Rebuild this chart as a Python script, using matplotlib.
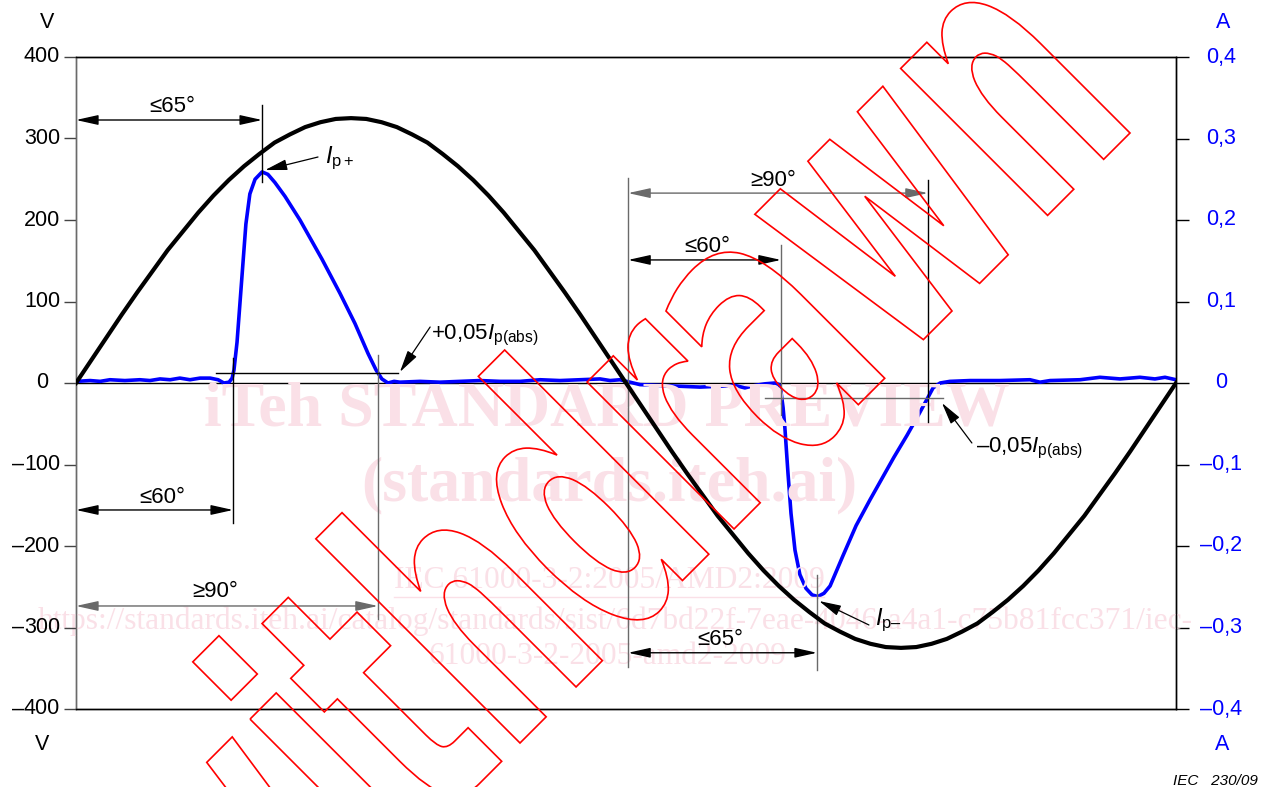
import numpy as np
import matplotlib
matplotlib.use("Agg")
import matplotlib.pyplot as plt
from matplotlib.textpath import TextPath
from matplotlib.patches import PathPatch, ArrowStyle
from matplotlib.font_manager import FontProperties
from matplotlib.transforms import Affine2D, blended_transform_factory

plt.rcParams['font.family'] = ['Liberation Sans', 'DejaVu Sans']
plt.rcParams['mathtext.fontset'] = 'custom'
plt.rcParams['mathtext.rm'] = 'Liberation Sans'
plt.rcParams['mathtext.it'] = 'Liberation Sans:italic'

W, H = 1261, 787

# supply voltage, phase angle in degrees
volt_deg = list(range(0, 361, 5))
volt = [0, 28, 56, 84, 111, 137, 163, 186, 209, 230, 249, 266, 281, 295, 305, 314, 320, 324,
        325, 324, 320, 314, 305, 295, 281, 266, 249, 230, 209, 186, 163, 137, 111, 84, 56, 28,
        0, -28, -56, -84, -111, -137, -163, -186, -209, -230, -249, -266, -281, -295, -305,
        -314, -320, -324, -325, -324, -320, -314, -305, -295, -281, -266, -249, -230, -209,
        -186, -163, -137, -111, -84, -56, -28, 0]

# input current (A)
cur_deg = [0.0, 4.6, 7.9, 11.1, 16.0, 20.9, 24.2, 27.5, 30.8, 34.0, 37.3, 40.6, 43.9, 46.5,
           48.4, 50.1, 51.1, 51.7, 52.7, 53.7, 54.7, 55.6, 56.9, 58.6, 60.9, 62.8, 65.1, 68.4,
           73.3, 80.5, 86.4, 91.3, 95.6, 98.2, 100.1, 102.1, 104.1, 106.0, 112.6, 119.1, 125.7,
           132.2, 138.8, 145.3, 151.9, 158.4, 164.9, 171.5, 174.8, 178.0, 181.3, 184.6, 191.1,
           197.7, 204.2, 210.8, 215.7, 218.9, 222.2, 225.5, 228.8, 230.1, 230.7, 231.4, 232.0,
           233.0, 234.0, 235.3, 236.9, 238.9, 240.9, 242.8, 244.8, 246.8, 251.0, 255.3, 259.9,
           263.5, 267.7, 272.0, 275.6, 278.5, 280.5, 282.8, 286.0, 292.6, 302.4, 312.2, 315.5,
           318.8, 328.6, 335.1, 341.7, 348.2, 353.1, 356.4, 360.0]
cur = [0.002, 0.003, 0.002, 0.004, 0.003, 0.004, 0.003, 0.005, 0.004, 0.006, 0.004, 0.006,
       0.006, 0.004, 0.0, 0.001, 0.006, 0.016, 0.05, 0.10, 0.15, 0.195, 0.232, 0.250, 0.259,
       0.256, 0.246, 0.229, 0.200, 0.152, 0.110, 0.073, 0.036, 0.016, 0.005, 0.0, 0.002, 0.001,
       0.002, 0.001, 0.002, 0.003, 0.002, 0.002, 0.004, 0.003, 0.004, 0.005, 0.003, 0.004,
       0.001, -0.002, -0.003, -0.004, -0.005, -0.004, -0.003, -0.006, -0.003, -0.001, 0.0,
       -0.002, -0.01, -0.03, -0.055, -0.11, -0.16, -0.205, -0.235, -0.252, -0.26, -0.262,
       -0.258, -0.249, -0.212, -0.175, -0.143, -0.119, -0.091, -0.064, -0.04, -0.02, -0.006,
       0.0, 0.002, 0.003, 0.003, 0.004, 0.001, 0.003, 0.004, 0.007, 0.005, 0.007, 0.005,
       0.007, 0.004]

v_ticks = [-400, -300, -200, -100, 0, 100, 200, 300, 400]
a_ticks = [-0.4, -0.3, -0.2, -0.1, 0.0, 0.1, 0.2, 0.3, 0.4]
a_labels = ['–0,4', '–0,3', '–0,2', '–0,1', '0', '0,1', '0,2', '0,3', '0,4']

BLUE = '#0000ff'
GREY = '#6a6a6a'
PINK = '#fae0e7'
FS_TICK = 15.5
FS_LAB = 16

fig = plt.figure(figsize=(W / 100, H / 100), dpi=100)
ax = fig.add_axes([76 / W, 1 - 709 / H, 1100 / W, 652 / H])
ax2 = ax.twinx()

ax.set_xlim(0, 360)
ax.set_ylim(-400, 400)
ax2.set_ylim(-0.4, 0.4)
ax.set_xticks([])
ax.set_yticks(v_ticks)
ax2.set_yticks(a_ticks)
ax.tick_params(axis='y', direction='out', length=9, width=1, color='#444444', labelleft=False)
ax2.tick_params(axis='y', direction='out', length=9.5, width=1, color='black', labelright=False)
for a in (ax, ax2):
    for s in a.spines.values():
        s.set_linewidth(1.0)
ax.spines['left'].set_color(GREY)
ax2.spines['left'].set_color(GREY)

# curves: zero line under the current trace, voltage trace on top
ax2.axhline(0, color='black', lw=1.0, zorder=1)
ax2.plot(cur_deg, cur, color=BLUE, lw=2.6, solid_joinstyle='round', zorder=5)
ax.plot(volt_deg, volt, color='black', lw=3.0, solid_joinstyle='round', zorder=4)

# tick labels
tl = blended_transform_factory(ax.transAxes, ax.transData)
for v in v_ticks:
    ax.text((42 - 76) / 1100, v, str(abs(v)), transform=tl, ha='center', va='center',
            fontsize=FS_TICK)
    if v < 0:
        ax.text((24 - 76) / 1100, v, '–', transform=tl, ha='right', va='center',
                fontsize=FS_TICK)
tr = blended_transform_factory(ax2.transAxes, ax2.transData)
for a, lab in zip(a_ticks, a_labels):
    ax2.text((1221 - 76) / 1100, a, lab, transform=tr, ha='center', va='center',
             fontsize=FS_TICK, color=BLUE)

fig.text(47 / W, 1 - 22 / H, 'V', ha='center', va='center', fontsize=FS_TICK)
fig.text(42 / W, 1 - 745 / H, 'V', ha='center', va='center', fontsize=FS_TICK)
fig.text(1223 / W, 1 - 23 / H, 'A', ha='center', va='center', fontsize=FS_TICK, color=BLUE)
fig.text(1222 / W, 1 - 744 / H, 'A', ha='center', va='center', fontsize=FS_TICK, color=BLUE)
fig.text(1258 / W, 1 - 781 / H, 'IEC   230/09', ha='right', va='center', fontsize=11,
         style='italic')

# dimension marks
dim_style = ArrowStyle('<|-|>', head_length=0.9, head_width=0.2)
lead_style = ArrowStyle('-|>', head_length=0.9, head_width=0.22)


def vline(x, y0, y1, c='black'):
    ax.plot([x, x], [y0, y1], color=c, lw=1.0, zorder=3)


def dim(x0, x1, y, text, tx, ty, c='black'):
    ax.annotate('', xy=(x1, y), xytext=(x0, y),
                arrowprops=dict(arrowstyle=dim_style, color=c, lw=1.0, shrinkA=0, shrinkB=0,
                                mutation_scale=15), zorder=3)
    ax.text(tx, ty, text, ha='center', va='center', fontsize=FS_LAB, zorder=6)


def leader(x0, y0, x1, y1):
    ax.annotate('', xy=(x1, y1), xytext=(x0, y0),
                arrowprops=dict(arrowstyle=lead_style, color='black', lw=0.9, shrinkA=0,
                                shrinkB=0, mutation_scale=15), zorder=6)


# positive half-cycle
vline(60.9, 341, 246.6)
dim(0, 60.9, 322.7, '≤65°', 31.4, 338.7)
vline(51.4, 30.7, -171.8)
dim(0, 51.4, -155.8, '≤60°', 28.1, -139.9)
vline(98.8, 34, -289.6, GREY)
dim(0, 98.8, -273.6, '≥90°', 45.5, -256.4, GREY)
ax.plot([45.8, 105.4], [12.3, 12.3], color='black', lw=1.0, zorder=3)
ax.text(81.5, 276, r'$\mathit{I}_{\mathrm{p+}}$', ha='left', va='center', fontsize=17, zorder=6)
leader(79.2, 277.3, 61.9, 261.3)
ax.text(116.3, 58.9, r'+0,05$\mathit{I}_{\mathrm{p(abs)}}$', ha='left', va='center',
        fontsize=FS_LAB, zorder=6)
leader(115.9, 68.7, 106.0, 13.5)

# negative half-cycle
vline(180.7, 251.5, -348.5, GREY)
vline(278.8, 249, -48)
dim(180.7, 278.8, 233, '≥90°', 228.1, 249, GREY)
vline(230.7, 169, -39, GREY)
dim(180.7, 230.7, 151, '≤60°', 206.5, 166.9)
ax.plot([225.5, 283.8], [-18.4, -18.4], color=GREY, lw=1.0, zorder=3)
ax.text(294.6, -79.8, r'–0,05$\mathit{I}_{\mathrm{p(abs)}}$', ha='left', va='center',
        fontsize=FS_LAB, zorder=6)
leader(293.2, -73.6, 283.4, -24.5)
vline(242.5, -235.6, -352, GREY)
dim(180.7, 242.5, -331, '≤65°', 210.8, -315.3)
ax.text(261.5, -290.8, r'$\mathit{I}_{\mathrm{p–}}$', ha='left', va='center', fontsize=17,
        zorder=6)
leader(259.5, -296.9, 243.2, -267.5)

# publisher stamps
serif = ['Liberation Serif', 'DejaVu Serif']
fig.text(607 / W, 1 - 410 / H, 'iTeh STANDARD PREVIEW', ha='center', va='center',
         fontsize=46, fontweight='bold', family=serif, color=PINK, zorder=0.5)
fig.text(609 / W, 1 - 485 / H, '(standards.iteh.ai)', ha='center', va='center',
         fontsize=46, fontweight='bold', family=serif, color=PINK, zorder=0.5)
fig.text(609 / W, 1 - 580 / H, 'IEC 61000-3-2:2005/AMD2:2009', ha='center', va='center',
         fontsize=22.7, family=serif, color=PINK, zorder=0.5)
fig.add_artist(plt.Line2D([394 / W, 824 / W], [1 - 597 / H, 1 - 597 / H], color=PINK,
                          lw=1.0, zorder=0.5))
fig.text(615 / W, 1 - 621 / H,
         'https://standards.iteh.ai/catalog/standards/sist/6d7bd22f-7eae-4046-a4a1-c75b81fcc371/iec-',
         ha='center', va='center', fontsize=22.7, family=serif, color=PINK, zorder=0.5)
fig.text(608 / W, 1 - 657 / H, '61000-3-2-2005-amd2-2009', ha='center', va='center',
         fontsize=22.7, family=serif, color=PINK, zorder=0.5)
ax.set_zorder(1)
ax.patch.set_alpha(0)
ax2.patch.set_alpha(0)

# big outlined stamp word along the diagonal
tp = TextPath((0, 0), 'withdrawn', size=1,
              prop=FontProperties(family='DejaVu Sans', weight='bold'))
sx, sy = 212, 380
end = tp.get_extents().x1
rot = Affine2D().scale(sx, sy).rotate_deg(45)
ex, ey = rot.transform((end, 0))
trans = rot + Affine2D().translate(1130 - ex, (H - 133) - ey)
stamp = PathPatch(tp, transform=trans, facecolor='none', edgecolor='red', lw=1.2, zorder=10)
fig.add_artist(stamp)

fig.savefig('out.png', dpi=100)
